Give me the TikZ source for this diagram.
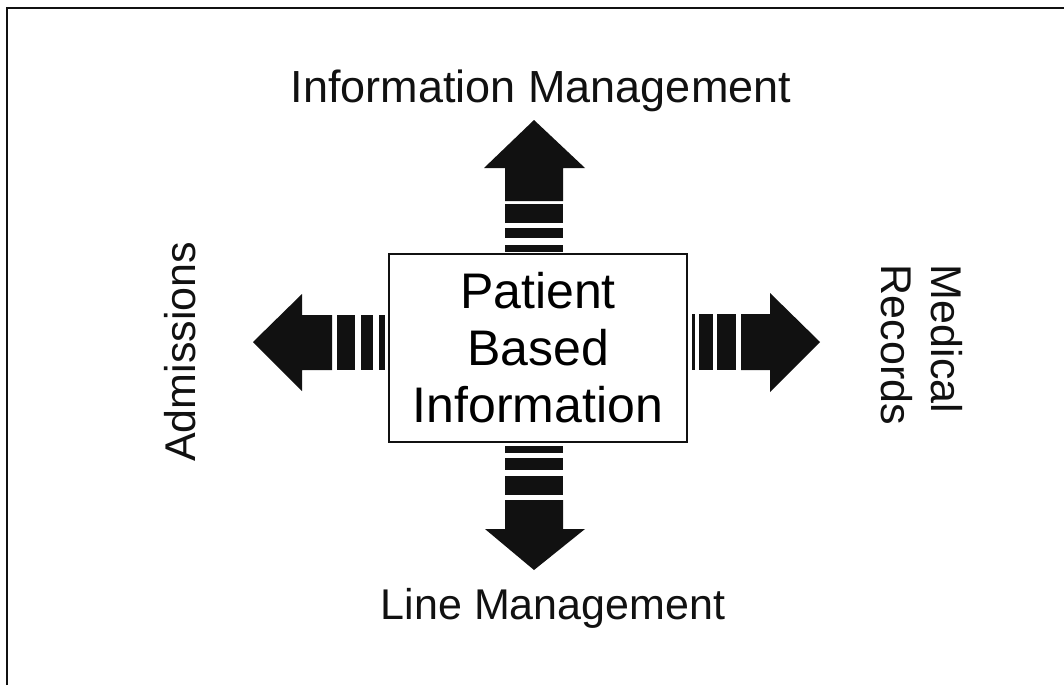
\documentclass[tikz,border=0pt]{standalone}
\usepackage{fontspec}
\setmainfont{Liberation Sans}
\usetikzlibrary{positioning}
\definecolor{ink}{HTML}{111111}

\begin{document}
\begin{tikzpicture}[x=1pt, y=-1pt,
    label/.style={text=ink, font=\fontsize{43}{50}\selectfont, inner sep=0pt},
    centre/.style={draw=ink, line width=1.4pt, fill=white, minimum width=298pt, minimum height=188pt,
      align=center, font=\fontsize{50}{57}\selectfont, inner sep=0pt},
    bar/.style={fill=ink}]
  \useasboundingbox[fill=white] (0,0) rectangle (1064,685);

  % frame (only top and left edges show)
  \draw[ink, line width=2.2pt] (7,685) -- (7,8) -- (1064,8);

  % centre box
  \node[centre] (pbi) at (538,348) {Patient\\Based\\Information};

  % up: information management
  \fill[ink] (484,168) -- (534,120) -- (585,168) -- (563,168) -- (563,201) -- (505,201) -- (505,168) -- cycle;
  \fill[bar] (505,204) rectangle (563,223);
  \fill[bar] (505,228) rectangle (563,238);
  \fill[bar] (505,245) rectangle (563,252);

  % down: line management
  \fill[ink] (485,529) -- (534,570) -- (585,529) -- (563,529) -- (563,500) -- (505,500) -- (505,529) -- cycle;
  \fill[bar] (505,476) rectangle (563,495);
  \fill[bar] (505,458) rectangle (563,470);
  \fill[bar] (505,446) rectangle (563,453);

  % left: admissions
  \fill[ink] (302,294) -- (253,342) -- (302,391) -- (302,370) -- (332,370) -- (332,315) -- (302,315) -- cycle;
  \fill[bar] (337,315) rectangle (355,370);
  \fill[bar] (361,315) rectangle (373,370);
  \fill[bar] (379,315) rectangle (385,370);

  % right: medical records
  \fill[ink] (770,293) -- (820,342) -- (770,392) -- (770,370) -- (741,370) -- (741,314) -- (770,314) -- cycle;
  \fill[bar] (717,314) rectangle (736,370);
  \fill[bar] (699,314) rectangle (713,370);
  \fill[bar] (692,314) rectangle (695,370);

  % labels
  \node[label, anchor=base, font=\fontsize{45}{52}\selectfont] (info) at (541,102) {Information Management};
  \node[label, anchor=base] (line) at (553,619) {Line Management};
  \node[label, anchor=base, rotate=90] (adm) at (195,352) {Admissions};
  \node[label, rotate=-90, align=left, font=\fontsize{43}{50}\selectfont] (med) at (922,345) {Medical\\Records};
\end{tikzpicture}
\end{document}
